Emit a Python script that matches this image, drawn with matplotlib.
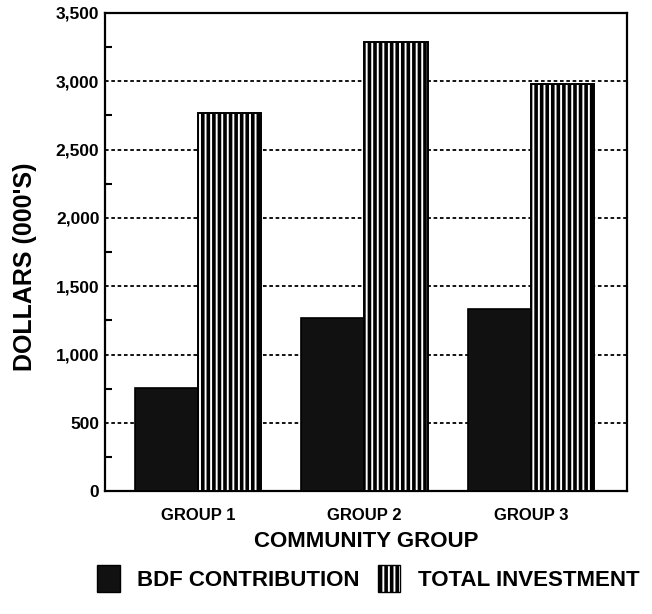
import matplotlib.pyplot as plt
import numpy as np
from matplotlib.patches import Patch
from matplotlib.ticker import FuncFormatter, MultipleLocator

plt.rcParams["font.family"] = ["Liberation Sans", "DejaVu Sans"]
plt.rcParams["font.weight"] = "bold"
plt.rcParams["hatch.linewidth"] = 2.6

groups = ["GROUP 1", "GROUP 2", "GROUP 3"]
bdf_contribution = [755, 1270, 1330]
total_investment = [2765, 3290, 2980]

x = np.arange(1, len(groups) + 1)
width = 0.38

fig = plt.figure(figsize=(6.52, 6.14), dpi=100)
ax = fig.add_axes([0.161, 0.2, 0.801, 0.779])

ax.bar(x - width / 2, bdf_contribution, width, color="#111111",
       edgecolor="black", linewidth=1.2, zorder=3)
ax.bar(x + width / 2, total_investment, width, color="white",
       edgecolor="black", hatch="|||", linewidth=1.4, zorder=3)

ax.set_xlim(0.44, 3.58)
ax.set_ylim(0, 3500)
ax.yaxis.set_major_locator(MultipleLocator(500))
ax.yaxis.set_minor_locator(MultipleLocator(250))
ax.yaxis.set_major_formatter(FuncFormatter(lambda v, _: f"{int(v):,}"))
ax.grid(axis="y", which="major", color="black", linestyle=(0, (2, 1.5)),
        linewidth=1.3, zorder=1)
ax.tick_params(axis="y", which="major", length=0, pad=4, labelsize=12.5)
ax.tick_params(axis="y", which="minor", direction="in", length=5, width=1.5)
ax.set_xticks(x, groups)
ax.tick_params(axis="x", length=0, pad=12, labelsize=12)
for lab in ax.get_xticklabels() + ax.get_yticklabels():
    lab.set_fontweight("bold")
for s in ax.spines.values():
    s.set_linewidth(1.6)

ax.set_xlabel("COMMUNITY GROUP", fontsize=16, fontweight="bold", labelpad=6)
ax.set_ylabel("DOLLARS (000'S)", fontsize=18, fontweight="bold")
ax.yaxis.set_label_coords(-0.13, 0.47)

handles = [
    Patch(facecolor="#111111", edgecolor="black", label="BDF CONTRIBUTION"),
    Patch(facecolor="white", edgecolor="black", hatch="|||", label="TOTAL INVESTMENT"),
]
fig.legend(handles=handles, loc="center", bbox_to_anchor=(0.565, 0.058), ncol=2,
           frameon=False, prop={"size": 16, "weight": "bold"},
           handlelength=1.0, handleheight=1.5, columnspacing=0.8, handletextpad=0.8)

fig.savefig("out.png", dpi=100)
